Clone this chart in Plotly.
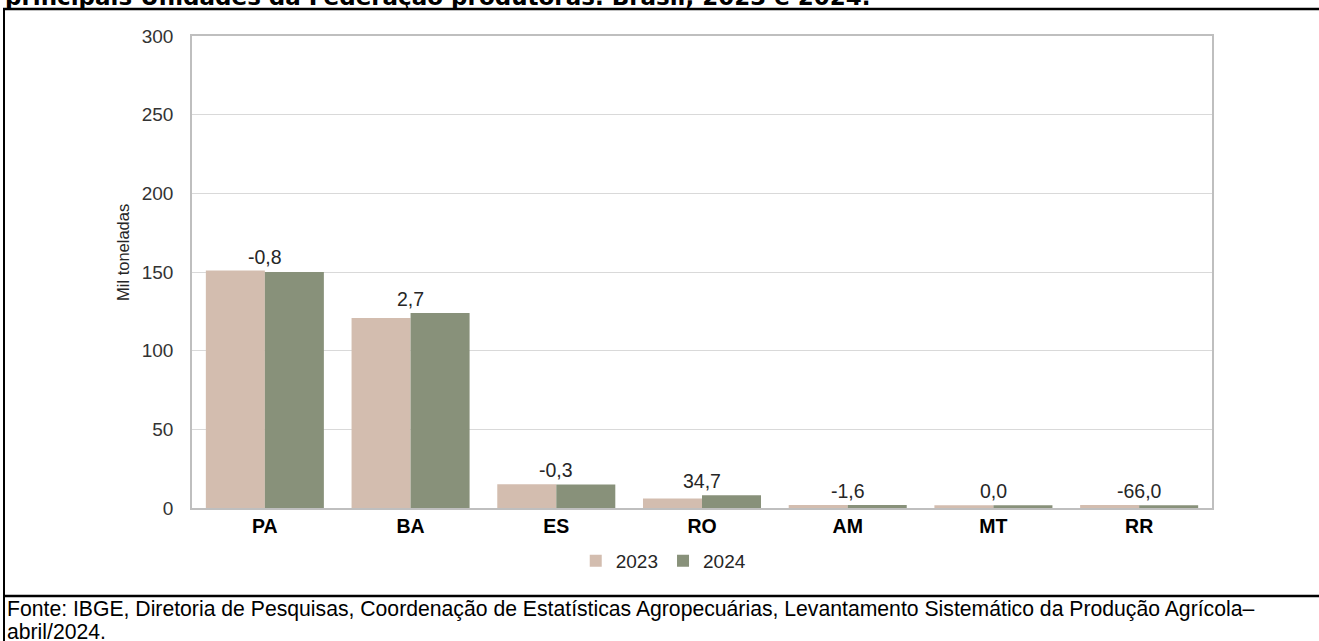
import plotly.graph_objects as go

categories = ["PA", "BA", "ES", "RO", "AM", "MT", "RR"]
values_2023 = [150.9, 120.7, 15.1, 6.1, 1.9, 1.8, 1.9]
values_2024 = [150.0, 124.0, 15.0, 8.1, 1.9, 1.8, 1.8]
change_labels = ["-0,8", "2,7", "-0,3", "34,7", "-1,6", "0,0", "-66,0"]
y_ticks = [0, 50, 100, 150, 200, 250, 300]

title_text = "principais Unidades da Federação produtoras. Brasil, 2023 e 2024."
y_title = "Mil toneladas"
source_line1 = ("Fonte: IBGE, Diretoria de Pesquisas, Coordenação de Estatísticas Agropecuárias, "
                "Levantamento Sistemático da Produção Agrícola–")
source_line2 = "abril/2024."

W, H = 1319, 641
ML, MR, MT, MB = 192, 107, 36, 133
PW = W - ML - MR
PH = H - MT - MB

def px(x):
    return (x - ML) / PW

def py(y):
    return (H - MB - y) / PH

FONT = "Liberation Sans, Arial, sans-serif"
C23 = "#d3bdaf"
C24 = "#88917a"

fig = go.Figure()
fig.add_trace(go.Bar(x=categories, y=values_2023, name="2023", marker_color=C23,
                     marker_line_width=0))
fig.add_trace(go.Bar(x=categories, y=values_2024, name="2024", marker_color=C24,
                     marker_line_width=0))

annotations = []
for c, a, b, t in zip(categories, values_2023, values_2024, change_labels):
    annotations.append(dict(x=c, y=max(a, b), xref="x", yref="y", text=t, showarrow=False,
                            yanchor="bottom", yshift=1,
                            font=dict(family=FONT, size=19.5, color="#262626")))

annotations.append(dict(x=px(3), y=py(-3), xref="paper", yref="paper", text="<b>" + title_text + "</b>",
                        showarrow=False, xanchor="left", yanchor="middle",
                        font=dict(family="DejaVu Sans, sans-serif", size=23, color="#000000")))
annotations.append(dict(x=px(123), y=py(253), xref="paper", yref="paper", text=y_title,
                        showarrow=False, xanchor="center", yanchor="middle", textangle=-90,
                        font=dict(family=FONT, size=16.5, color="#262626")))
annotations.append(dict(x=px(5), y=py(609), xref="paper", yref="paper", text=source_line1,
                        showarrow=False, xanchor="left", yanchor="middle", align="left",
                        font=dict(family=FONT, size=21.2, color="#000000")))
annotations.append(dict(x=px(5), y=py(631), xref="paper", yref="paper", text=source_line2,
                        showarrow=False, xanchor="left", yanchor="middle", align="left",
                        font=dict(family=FONT, size=21.2, color="#000000")))

shapes = [
    dict(type="line", xref="paper", yref="paper", x0=px(3), x1=px(1325), y0=py(9), y1=py(9),
         line=dict(color="#000000", width=2.5)),
    dict(type="line", xref="paper", yref="paper", x0=px(4), x1=px(4), y0=py(8), y1=py(650),
         line=dict(color="#000000", width=2)),
    dict(type="line", xref="paper", yref="paper", x0=px(3), x1=px(1325), y0=py(596), y1=py(596),
         line=dict(color="#000000", width=2.5)),
]

fig.update_layout(
    width=W, height=H,
    margin=dict(l=ML, r=MR, t=MT, b=MB),
    paper_bgcolor="#ffffff", plot_bgcolor="#ffffff",
    barmode="group", bargap=0.19, bargroupgap=0,
    font=dict(family=FONT, size=18, color="#333333"),
    showlegend=True,
    legend=dict(orientation="h", x=0.462, xanchor="center", y=py(561), yanchor="middle",
                font=dict(family=FONT, size=19, color="#262626"), traceorder="normal",
                itemwidth=30),
    annotations=annotations,
    shapes=shapes,
)

fig.update_xaxes(showline=True, linecolor="#bfbfbf", linewidth=1.5, mirror=True,
                 ticks="", tickfont=dict(family=FONT, size=19.5, color="#000000"),
                 tickprefix="<b>", ticksuffix="</b>")
fig.update_yaxes(range=[0, 300], tickvals=y_ticks, showgrid=True, gridcolor="#d9d9d9",
                 gridwidth=1, showline=True, linecolor="#bfbfbf", linewidth=1.5, mirror=True,
                 ticks="", ticklabelstandoff=13, zeroline=False,
                 tickfont=dict(family=FONT, size=19, color="#333333"))

fig.write_html("out.html", config={"displayModeBar": False},
               post_script="document.body.style.margin='0';document.body.style.overflow='hidden';")
